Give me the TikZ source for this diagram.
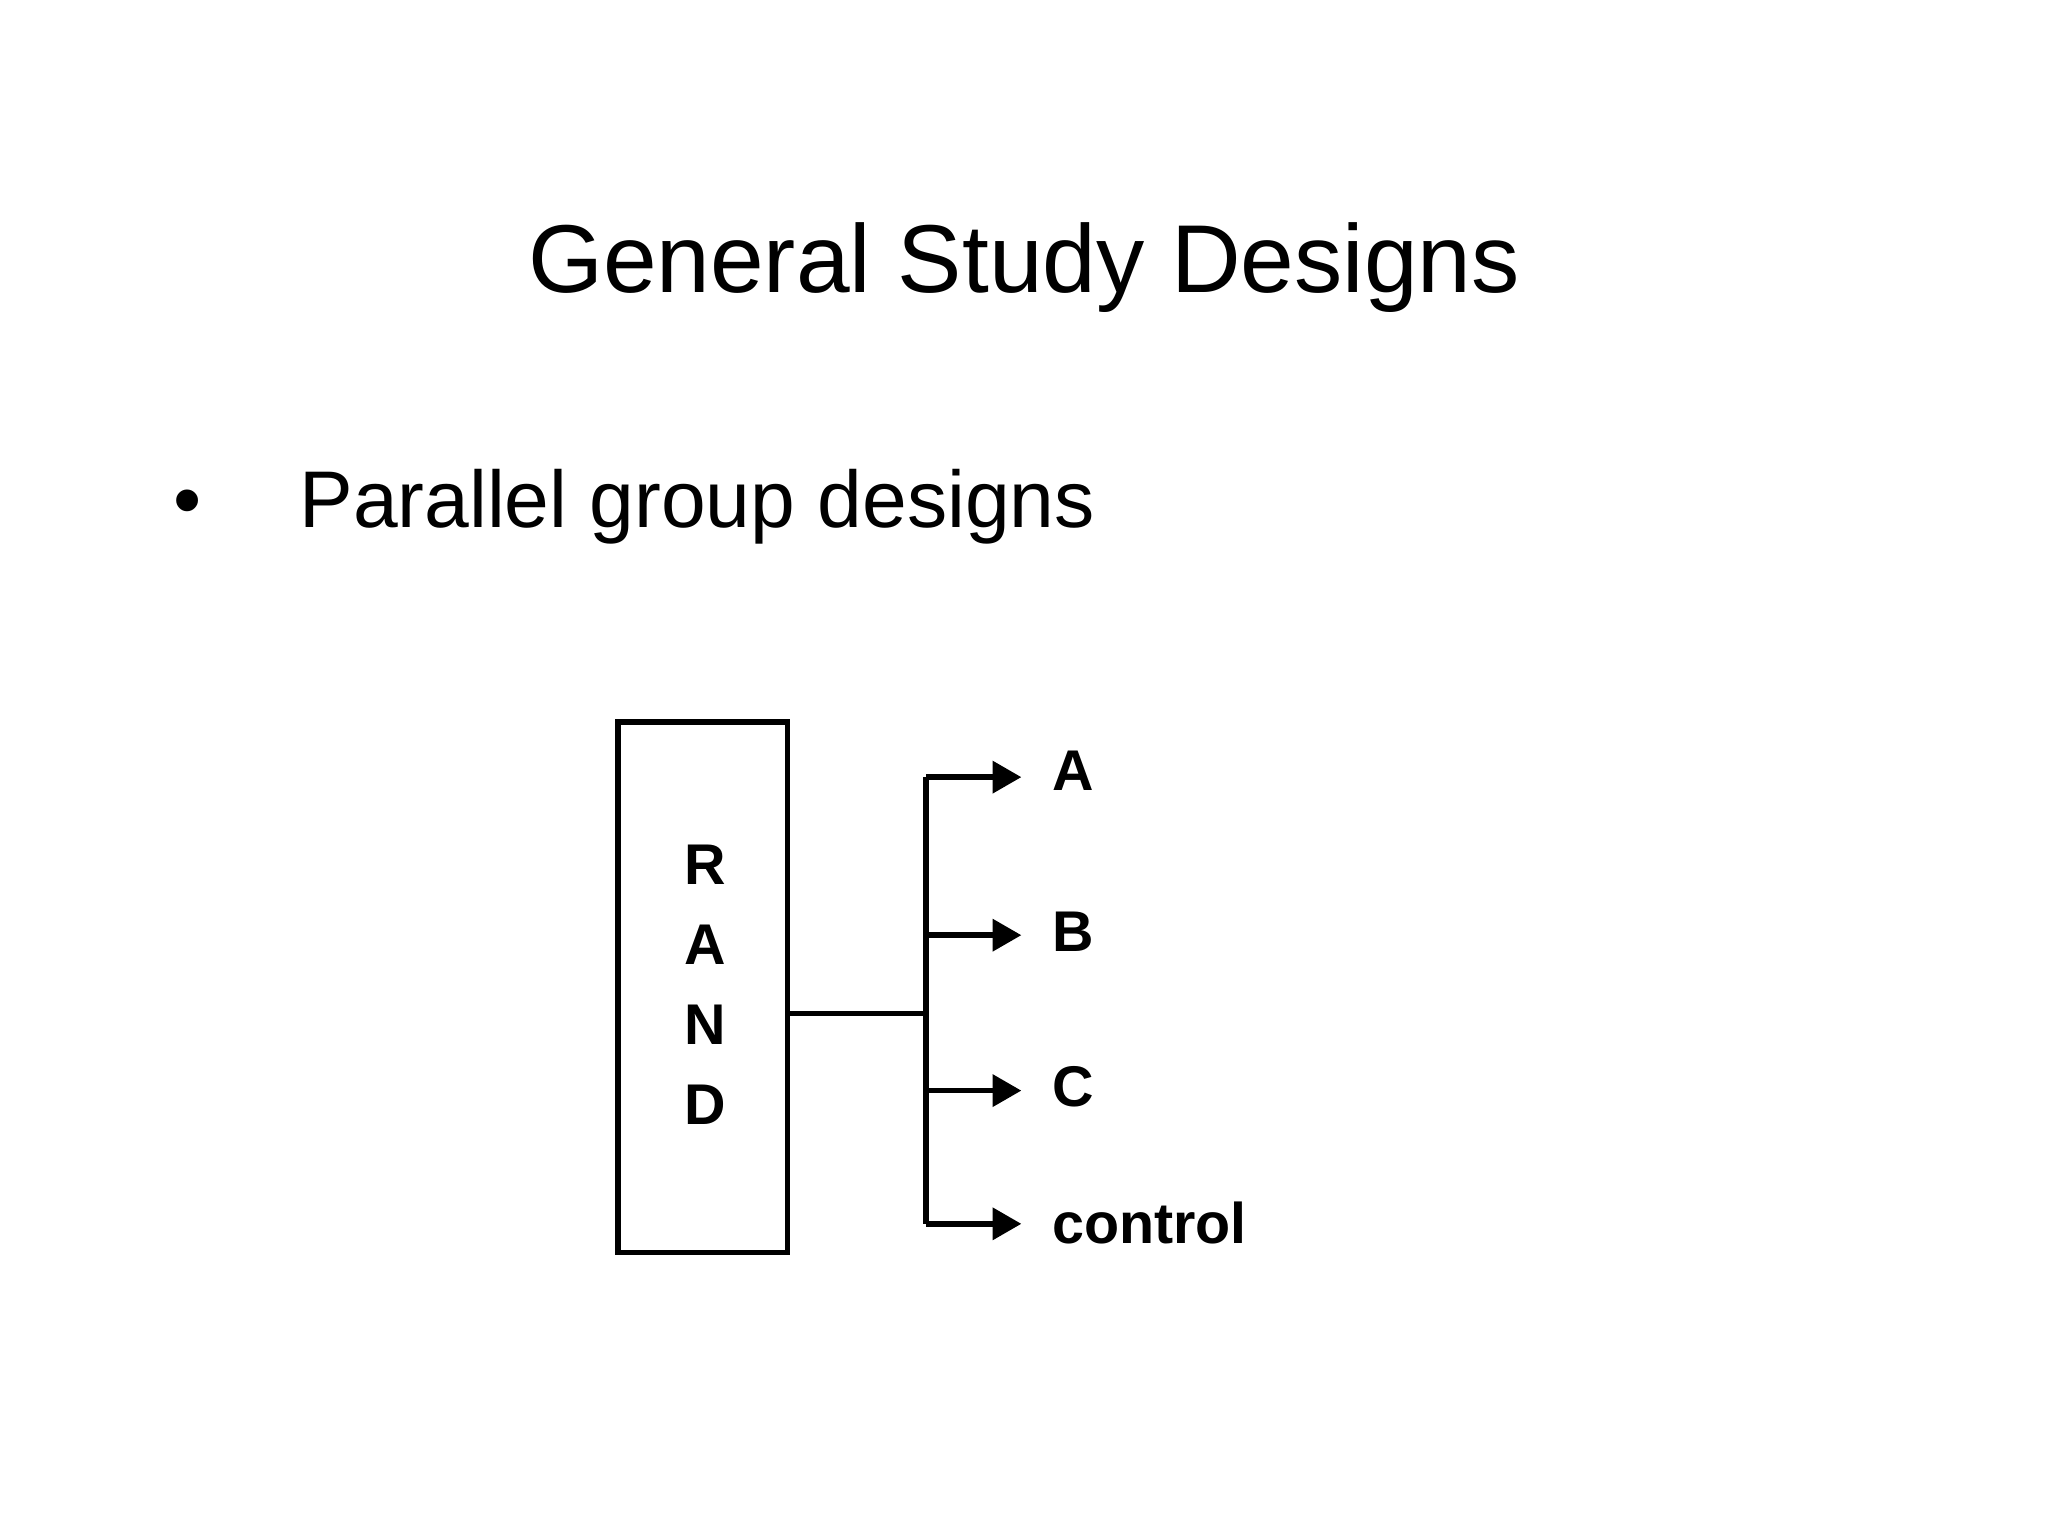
\documentclass[tikz,border=0pt]{standalone}
\usepackage{fontspec}
\setmainfont{Liberation Sans}
\usetikzlibrary{arrows.meta}
\begin{document}
\begin{tikzpicture}[x=0.01cm,y=-0.01cm,
  lbl/.style={font=\fontsize{12.5pt}{14pt}\selectfont\bfseries, anchor=west, inner sep=0pt},
  arr/.style={line width=1.2pt,-{Triangle[length=0.22cm,width=0.24cm]}},
  ln/.style={line width=1.2pt}]
\useasboundingbox (0,0) rectangle (1568,1176);
\node[font=\fontsize{21pt}{24pt}\selectfont] (title) at (784,205) {General Study Designs};
\node[font=\fontsize{17.5pt}{20pt}\selectfont, anchor=west, inner sep=0pt] (bul) at (132,388) {\textbullet\hspace{0.75cm}Parallel group designs};
\node[draw, line width=1.2pt, minimum width=1.30cm, minimum height=4.06cm, inner sep=0pt] (box) at (538,756) {};
\node[font=\fontsize{12.5pt}{14pt}\selectfont\bfseries, align=center] (rand) at (540,754) {R\\[0.12cm]A\\[0.12cm]N\\[0.12cm]D};
\coordinate (j) at (709,776);
\coordinate (t1) at (709,595);
\coordinate (t2) at (709,716);
\coordinate (t3) at (709,835);
\coordinate (t4) at (709,937);
\draw[ln] (box.east |- j) -- (j);
\draw[ln] (t1) -- (t4);
\node[lbl] (A) at (805,590) {A};
\node[lbl] (B) at (805,713) {B};
\node[lbl] (C) at (805,832) {C};
\node[lbl] (ctl) at (805,936) {control};
\draw[arr] (t1) -- (782,595);
\draw[arr] (t2) -- (782,716);
\draw[arr] (t3) -- (782,835);
\draw[arr] (t4) -- (782,937);
\end{tikzpicture}
\end{document}
